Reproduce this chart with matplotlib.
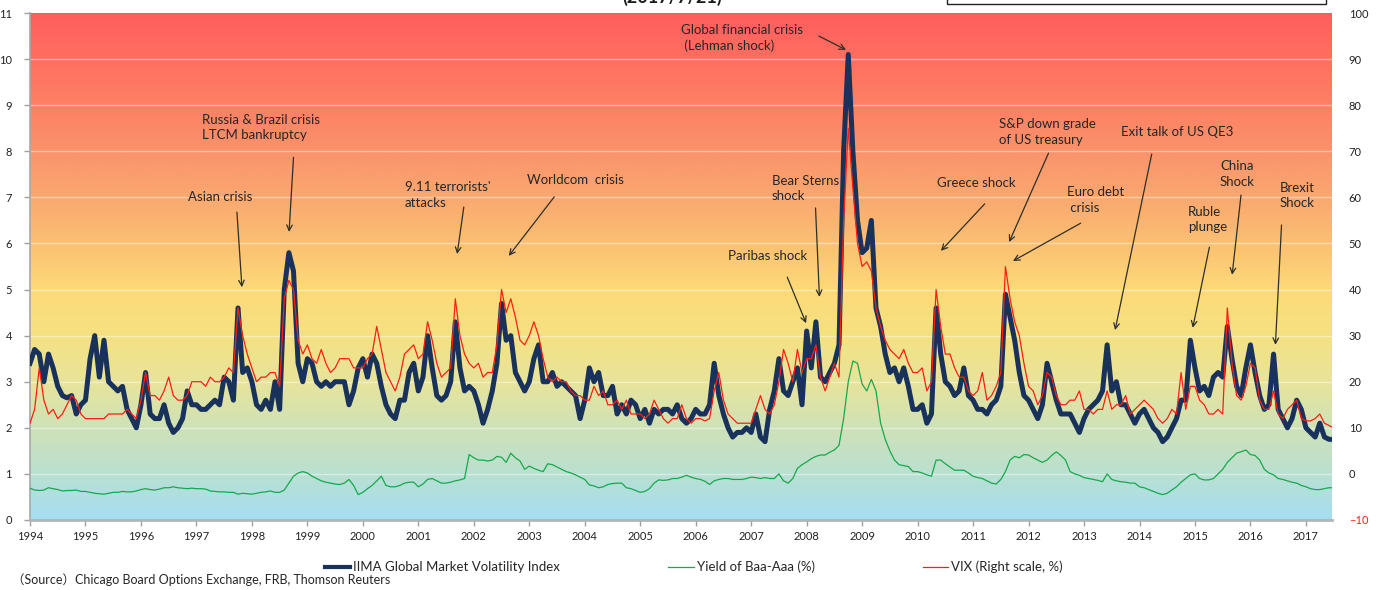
import numpy as np
import matplotlib
matplotlib.use('Agg')
import matplotlib.pyplot as plt
from matplotlib.colors import LinearSegmentedColormap
from matplotlib.patches import Rectangle
from matplotlib.lines import Line2D

plt.rcParams['font.family'] = ['Lato', 'Noto Sans CJK JP']

# monthly values, Jan 1994 .. Jul 2017 (one row per year)
iima = [
    [3.4, 3.7, 3.6, 3.0, 3.6, 3.3, 2.9, 2.7, 2.65, 2.7, 2.3, 2.5],   # 1994
    [2.6, 3.5, 4.0, 3.1, 3.9, 3.0, 2.9, 2.8, 2.9, 2.4, 2.2, 2.0],    # 1995
    [2.5, 3.2, 2.3, 2.2, 2.2, 2.5, 2.1, 1.9, 2.0, 2.2, 2.8, 2.5],    # 1996
    [2.5, 2.4, 2.4, 2.5, 2.6, 2.5, 3.1, 3.0, 2.6, 4.6, 3.2, 3.3],    # 1997
    [3.0, 2.5, 2.4, 2.6, 2.4, 3.0, 2.4, 5.0, 5.8, 5.4, 3.4, 3.0],    # 1998
    [3.5, 3.4, 3.0, 2.9, 3.0, 2.9, 3.0, 3.0, 3.0, 2.5, 2.8, 3.3],    # 1999
    [3.5, 3.1, 3.6, 3.4, 2.9, 2.5, 2.3, 2.2, 2.6, 2.6, 3.2, 3.4],    # 2000
    [2.8, 3.1, 4.0, 3.3, 2.7, 2.6, 2.7, 3.0, 4.3, 3.3, 2.8, 2.9],    # 2001
    [2.8, 2.5, 2.1, 2.4, 2.8, 3.4, 4.7, 3.9, 4.0, 3.2, 3.0, 2.8],    # 2002
    [3.0, 3.5, 3.8, 3.0, 3.0, 3.2, 2.9, 3.0, 2.9, 2.8, 2.7, 2.2],    # 2003
    [2.6, 3.3, 3.0, 3.2, 2.7, 2.7, 2.9, 2.3, 2.5, 2.3, 2.6, 2.5],    # 2004
    [2.2, 2.4, 2.1, 2.4, 2.3, 2.4, 2.4, 2.3, 2.5, 2.2, 2.1, 2.2],    # 2005
    [2.4, 2.3, 2.3, 2.5, 3.4, 2.7, 2.3, 2.0, 1.8, 1.9, 1.9, 2.0],    # 2006
    [1.9, 2.3, 1.8, 1.7, 2.4, 2.8, 3.5, 2.8, 2.7, 3.0, 3.3, 2.5],    # 2007
    [4.1, 3.3, 4.3, 3.1, 3.0, 3.2, 3.4, 3.8, 8.0, 10.1, 8.0, 6.5],   # 2008
    [5.8, 5.9, 6.5, 4.6, 4.2, 3.6, 3.2, 3.3, 3.0, 3.3, 2.9, 2.4],    # 2009
    [2.4, 2.5, 2.1, 2.3, 4.6, 3.6, 3.0, 2.9, 2.7, 2.8, 3.3, 2.7],    # 2010
    [2.6, 2.4, 2.4, 2.3, 2.5, 2.6, 2.9, 4.9, 4.4, 3.9, 3.2, 2.7],    # 2011
    [2.6, 2.4, 2.2, 2.5, 3.4, 3.0, 2.6, 2.3, 2.3, 2.3, 2.1, 1.9],    # 2012
    [2.2, 2.4, 2.5, 2.6, 2.8, 3.8, 2.8, 3.0, 2.5, 2.5, 2.3, 2.1],    # 2013
    [2.3, 2.4, 2.2, 2.0, 1.9, 1.7, 1.8, 2.0, 2.2, 2.6, 2.6, 3.9],    # 2014
    [3.3, 2.8, 2.9, 2.7, 3.1, 3.2, 3.1, 4.2, 3.5, 2.9, 2.7, 3.3],    # 2015
    [3.8, 3.2, 2.7, 2.4, 2.5, 3.6, 2.4, 2.2, 2.0, 2.2, 2.6, 2.4],    # 2016
    [2.0, 1.9, 1.8, 2.1, 1.8, 1.75, 1.75],                           # 2017
]

vix = [
    [11, 14, 23, 16, 13, 14, 12, 13, 15, 17, 16, 13],      # 1994
    [12, 12, 12, 12, 12, 13, 13, 13, 13, 14, 13, 12],      # 1995
    [16, 22, 17, 17, 16, 18, 21, 17, 16, 16, 17, 20],      # 1996
    [20, 20, 19, 21, 20, 20, 21, 23, 22, 36, 30, 26],      # 1997
    [23, 20, 21, 21, 22, 22, 19, 38, 42, 40, 29, 26],      # 1998
    [28, 25, 24, 27, 24, 22, 23, 25, 25, 25, 23, 23],      # 1999
    [23, 25, 26, 32, 27, 22, 20, 18, 21, 26, 27, 28],      # 2000
    [25, 26, 33, 29, 24, 21, 22, 23, 38, 30, 26, 24],      # 2001
    [23, 24, 21, 22, 22, 28, 40, 35, 38, 34, 29, 28],      # 2002
    [30, 33, 30, 25, 21, 20, 21, 20, 20, 18, 17, 17],      # 2003
    [16, 16, 19, 17, 18, 15, 15, 16, 14, 16, 13, 13],      # 2004
    [13, 12, 13, 16, 14, 12, 11, 12, 12, 15, 12, 11],      # 2005
    [12, 12, 11.5, 12, 18, 22, 16, 13, 12, 11, 11, 11],    # 2006
    [11, 14, 17, 14, 13, 15, 20, 27, 24, 20, 27, 22],      # 2007
    [25, 25, 28, 21, 18, 21, 24, 21, 55, 75, 62, 50],      # 2008
    [45, 46, 44, 36, 32, 29, 27, 26, 25, 27, 24, 22],      # 2009
    [22, 23, 18, 20, 40, 32, 26, 26, 23, 21, 21, 18],      # 2010
    [17, 18, 22, 16, 17, 19, 22, 45, 38, 33, 30, 24],      # 2011
    [19, 18, 15, 17, 22, 21, 17, 15, 15, 16, 16, 18],      # 2012
    [14, 14, 13, 14, 14, 18, 14, 15, 15, 17, 13, 14],      # 2013
    [15, 16, 15, 14, 12, 11, 12, 14, 13, 22, 14, 19],      # 2014
    [19, 16, 15, 13, 13, 14, 13, 36, 24, 17, 16, 19],      # 2015
    [24, 23, 16, 14, 14, 18, 13, 12, 14, 15, 16, 12],      # 2016
    [11.5, 11.5, 12, 13, 11, 10.5, 10],                    # 2017
]

baa_aaa = [
    [0.69, 0.65, 0.64, 0.65, 0.70, 0.68, 0.66, 0.63, 0.64, 0.64, 0.65, 0.62],  # 1994
    [0.62, 0.60, 0.58, 0.57, 0.56, 0.58, 0.60, 0.60, 0.62, 0.61, 0.61, 0.63],  # 1995
    [0.66, 0.68, 0.66, 0.65, 0.67, 0.70, 0.70, 0.72, 0.70, 0.69, 0.68, 0.69],  # 1996
    [0.68, 0.68, 0.67, 0.63, 0.62, 0.61, 0.61, 0.60, 0.60, 0.56, 0.58, 0.57],  # 1997
    [0.56, 0.58, 0.60, 0.61, 0.63, 0.60, 0.60, 0.65, 0.80, 0.95, 1.02, 1.05],  # 1998
    [1.02, 0.95, 0.90, 0.85, 0.82, 0.80, 0.78, 0.77, 0.80, 0.88, 0.75, 0.55],  # 1999
    [0.60, 0.68, 0.75, 0.85, 0.95, 0.75, 0.72, 0.72, 0.75, 0.80, 0.82, 0.82],  # 2000
    [0.72, 0.78, 0.88, 0.90, 0.85, 0.80, 0.80, 0.82, 0.85, 0.87, 0.90, 1.42],  # 2001
    [1.35, 1.30, 1.30, 1.28, 1.30, 1.38, 1.36, 1.25, 1.45, 1.35, 1.28, 1.10],  # 2002
    [1.17, 1.12, 1.08, 1.05, 1.22, 1.20, 1.15, 1.10, 1.05, 1.02, 0.98, 0.93],  # 2003
    [0.88, 0.76, 0.74, 0.70, 0.72, 0.77, 0.79, 0.80, 0.80, 0.70, 0.68, 0.64],  # 2004
    [0.60, 0.62, 0.68, 0.80, 0.87, 0.86, 0.87, 0.90, 0.90, 0.93, 0.97, 0.93],  # 2005
    [0.90, 0.88, 0.84, 0.77, 0.85, 0.88, 0.90, 0.90, 0.88, 0.88, 0.88, 0.90],  # 2006
    [0.93, 0.92, 0.90, 0.92, 0.90, 0.90, 1.00, 0.85, 0.80, 0.90, 1.12, 1.20],  # 2007
    [1.26, 1.33, 1.38, 1.41, 1.41, 1.47, 1.52, 1.62, 2.20, 3.00, 3.45, 3.40],  # 2008
    [2.95, 2.80, 3.05, 2.80, 2.10, 1.75, 1.50, 1.30, 1.20, 1.18, 1.16, 1.05],  # 2009
    [1.05, 1.02, 0.98, 0.95, 1.30, 1.30, 1.22, 1.15, 1.08, 1.08, 1.08, 1.02],  # 2010
    [0.95, 0.92, 0.90, 0.85, 0.80, 0.78, 0.88, 1.05, 1.30, 1.38, 1.35, 1.42],  # 2011
    [1.41, 1.35, 1.30, 1.25, 1.30, 1.40, 1.48, 1.40, 1.30, 1.05, 1.00, 0.97],  # 2012
    [0.92, 0.90, 0.88, 0.86, 0.83, 1.00, 0.88, 0.85, 0.83, 0.82, 0.80, 0.80],  # 2013
    [0.72, 0.70, 0.66, 0.62, 0.58, 0.55, 0.58, 0.65, 0.72, 0.82, 0.90, 0.98],  # 2014
    [1.00, 0.90, 0.87, 0.87, 0.90, 1.00, 1.10, 1.25, 1.35, 1.45, 1.48, 1.52],  # 2015
    [1.42, 1.40, 1.30, 1.10, 1.02, 0.98, 0.90, 0.88, 0.85, 0.82, 0.80, 0.75],  # 2016
    [0.72, 0.68, 0.66, 0.66, 0.68, 0.70, 0.70],                                # 2017
]

# crisis labels: text, text anchor (year, left-axis value), arrow start, arrow tip
events = [
    ("Asian crisis", (1996.85, 7.01), (1997.73, 6.68), (1997.82, 5.05)),
    ("Russia & Brazil crisis\nLTCM bankruptcy", (1997.10, 8.52), (1998.75, 7.87), (1998.67, 6.25)),
    ("9.11 terrorists'\nattacks", (2000.76, 7.05), (2001.82, 6.79), (2001.70, 5.77)),
    ("Worldcom  crisis", (2002.96, 7.38), (2003.45, 7.01), (2002.63, 5.73)),
    ("Global financial crisis\n (Lehman shock)", (2005.73, 10.46), (2008.22, 10.50), (2008.71, 10.20)),
    ("Bear Sterns\nshock", (2007.37, 7.19), (2008.16, 6.77), (2008.23, 4.84)),
    ("Paribas shock", (2006.58, 5.73), (2007.65, 5.27), (2007.99, 4.27)),
    ("Greece shock", (2010.35, 7.31), (2011.21, 6.86), (2010.42, 5.84)),
    ("S&P down grade\nof US treasury", (2011.47, 8.42), (2012.36, 7.96), (2011.65, 6.03)),
    ("Euro debt\n crisis", (2012.69, 6.94), (2012.94, 6.44), (2011.72, 5.62)),
    ("Exit talk of US QE3", (2013.67, 8.42), (2014.22, 7.94), (2013.56, 4.12)),
    ("Ruble\nplunge", (2014.87, 6.52), (2015.26, 5.92), (2014.96, 4.17)),
    ("China\nShock", (2015.45, 7.51), (2015.83, 7.05), (2015.67, 5.32)),
    ("Brexit\nShock", (2016.53, 7.04), (2016.56, 6.40), (2016.45, 3.80)),
]

years = list(range(1994, 2018))

iima_v = np.concatenate([np.array(r, dtype=float) for r in iima])
vix_v = np.concatenate([np.array(r, dtype=float) for r in vix])
baa_v = np.concatenate([np.array(r, dtype=float) for r in baa_aaa])
t = 1994 + np.arange(len(iima_v)) / 12.0

x0, x1 = 1994, 2017.47

fig = plt.figure(figsize=(13.76, 5.9), dpi=100)
ax = fig.add_axes([30 / 1376, 70 / 590, 1302 / 1376, 507 / 590])

# background: blue (calm) at the bottom to red (stress) at the top
bg = LinearSegmentedColormap.from_list('stress', [
    (0 / 11, '#A5DEF2'), (1 / 11, '#BAE0D0'), (2 / 11, '#CFE2B7'),
    (3 / 11, '#E8E49B'), (4 / 11, '#F5E182'), (5 / 11, '#FDDA78'),
    (6 / 11, '#FBC073'), (7 / 11, '#FAA870'), (8 / 11, '#FA936C'),
    (9 / 11, '#FD8064'), (10 / 11, '#FF6F60'), (11 / 11, '#FF5E5E'),
])
ax.imshow(np.linspace(0, 1, 512).reshape(-1, 1), cmap=bg, origin='lower',
          extent=[x0, x1, 0, 11], aspect='auto', zorder=0, interpolation='bilinear')
for yv in range(1, 11):
    ax.axhline(yv, color='white', lw=1.0, alpha=0.45, zorder=1)

ax.plot(t, iima_v, color='#18325C', lw=3.6, zorder=3, solid_joinstyle='round')
ax.plot(t, baa_v, color='#17A84E', lw=0.9, zorder=3)

ax.set_xlim(x0, x1)
ax.set_ylim(0, 11)
ax.set_xticks(years)
ax.set_xticklabels([str(y) for y in years])
ax.set_yticks(range(0, 12))
ax.tick_params(axis='x', direction='out', length=4, width=1, color='#A0A0A0',
               labelsize=8, labelcolor='#222222', pad=4)
ax.tick_params(axis='y', direction='out', length=4, width=1, color='#A0A0A0',
               labelsize=8, labelcolor='#222222', pad=9)
for s in ('top', 'right'):
    ax.spines[s].set_visible(False)
ax.spines['left'].set_color('#A8A8A8')
ax.spines['left'].set_linewidth(1.2)
ax.spines['bottom'].set_color('#B4B4B4')
ax.spines['bottom'].set_linewidth(2)

ax2 = ax.twinx()
ax2.plot(t, vix_v, color='#FF1E14', lw=0.9, zorder=3)
ax2.set_ylim(-10, 100)
ax2.set_xlim(x0, x1)
ax2.set_yticks(range(-10, 101, 10))
ax2.tick_params(axis='y', length=0, labelsize=8, labelcolor='#222222', pad=12)
ax2.get_yticklabels()[0].set_color('#FF1E14')
for s in ax2.spines.values():
    s.set_visible(False)

for label, txt_xy, a_start, a_end in events:
    ax2.text(*txt_xy, label, transform=ax.transData, fontsize=9.5, color='#262626',
             ha='left', va='center', linespacing=1.35, zorder=5)
    ax2.annotate('', xy=a_end, xytext=a_start, xycoords=ax.transData,
                 textcoords=ax.transData,
                 arrowprops=dict(arrowstyle='->', color='#2F2F24', lw=0.9,
                                 shrinkA=0, shrinkB=0, mutation_scale=10))

handles = [Line2D([], [], color='#18325C', lw=3),
           Line2D([], [], color='#17A84E', lw=0.9),
           Line2D([], [], color='#FF1E14', lw=0.9)]
labels = ['IIMA Global Market Volatility Index', 'Yield of Baa-Aaa (%)', 'VIX (Right scale, %)']
fig.legend(handles, labels, loc='center', bbox_to_anchor=(694 / 1376, 23 / 590),
           ncol=3, frameon=False, fontsize=9.5, handlelength=1.9,
           handletextpad=0.25, columnspacing=8.2, labelcolor='#262626')

fig.text(12 / 1376, 1 - 580 / 590, '（Source）Chicago Board Options Exchange, FRB, Thomson Reuters',
         fontsize=9, color='#262626', ha='left', va='center')

# headline sits mostly above the top edge
fig.text(672 / 1376, 1 - 3 / 590, '(2017/7/21)', fontsize=13, fontweight='bold',
         color='#1A1A1A', ha='center', va='baseline')
fig.patches.append(Rectangle((947 / 1376, 1 - 3.5 / 590), (1326 - 947) / 1376, 0.05,
                             transform=fig.transFigure, fill=False, ec='#222222',
                             lw=1, clip_on=False))

fig.savefig('out.png', dpi=100)
